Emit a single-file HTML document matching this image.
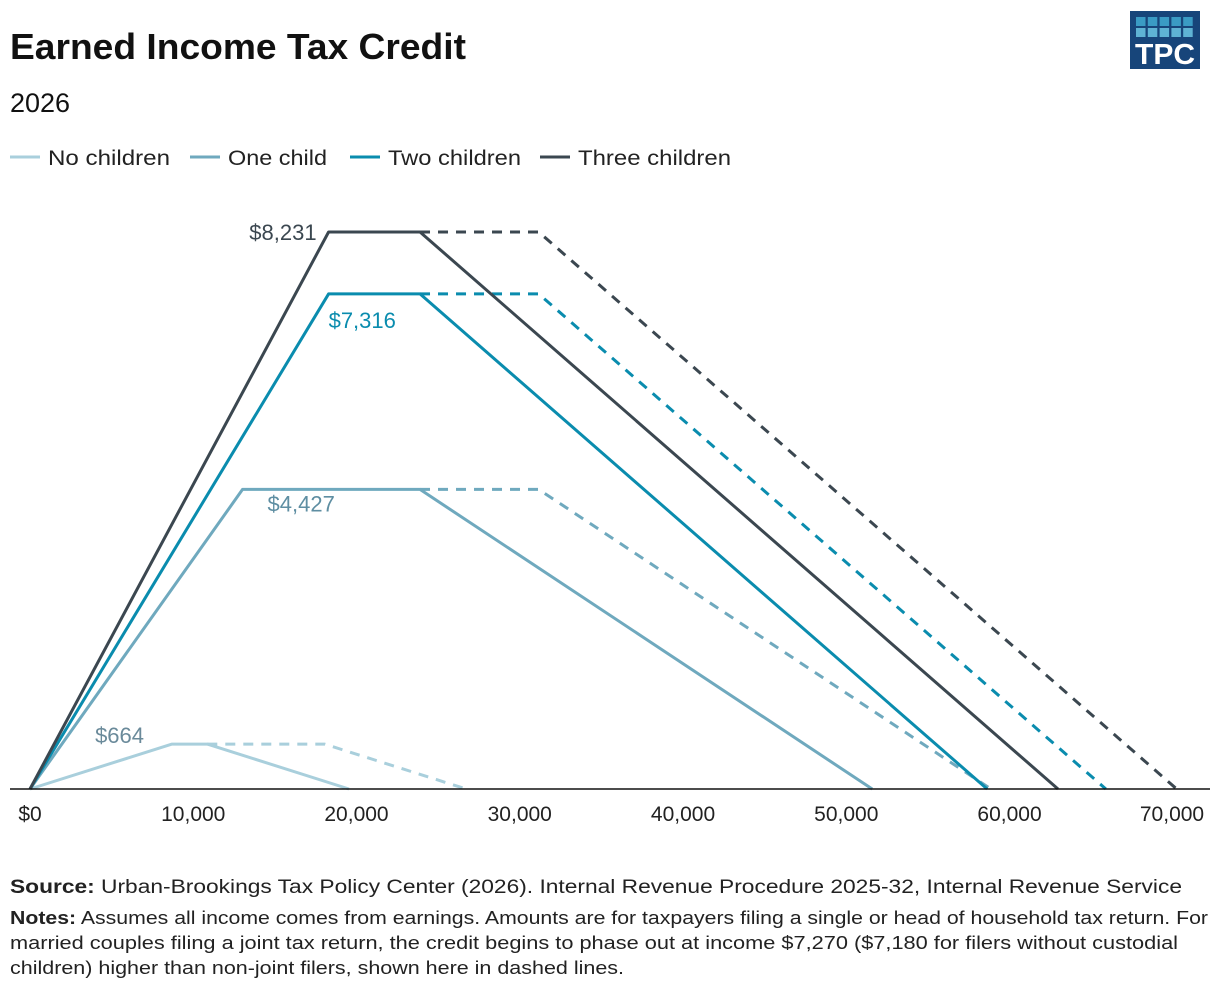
<!DOCTYPE html>
<html><head><meta charset="utf-8"><style>
body{margin:0;background:#fff;font-family:"Liberation Sans",sans-serif;}
#wrap{position:relative;width:1220px;height:992px;overflow:hidden;}
</style></head><body>
<div id="wrap">
<svg id="chart" width="1220" height="992" style="position:absolute;left:0;top:0">
<text x="10" y="59" font-size="36" font-weight="bold" fill="#111" textLength="456" lengthAdjust="spacingAndGlyphs">Earned Income Tax Credit</text>
<text x="10" y="112" font-size="27" fill="#111">2026</text>
<g>
<rect x="1130" y="11" width="70" height="58" fill="#17457a"/>
<g id="logogrid"></g>
<text x="1165" y="64" font-size="29" font-weight="bold" fill="#fff" text-anchor="middle" textLength="60" lengthAdjust="spacingAndGlyphs">TPC</text>
</g>
<g id="legend"></g>
<g id="plot"></g>
<text x="10" y="893" font-size="19" fill="#222" textLength="1172" lengthAdjust="spacingAndGlyphs"><tspan font-weight="bold">Source:</tspan> Urban-Brookings Tax Policy Center (2026). Internal Revenue Procedure 2025-32, Internal Revenue Service</text>
<g font-size="18" fill="#222">
<text x="10" y="924" textLength="1198" lengthAdjust="spacingAndGlyphs"><tspan font-weight="bold">Notes:</tspan> Assumes all income comes from earnings. Amounts are for taxpayers filing a single or head of household tax return. For</text>
<text x="10" y="949" textLength="1168" lengthAdjust="spacingAndGlyphs">married couples filing a joint tax return, the credit begins to phase out at income $7,270 ($7,180 for filers without custodial</text>
<text x="10" y="974" textLength="614" lengthAdjust="spacingAndGlyphs">children) higher than non-joint filers, shown here in dashed lines.</text>
</g>
</svg>
<script>
const seriesNames=["No children","One child","Two children","Three children"];
const colors=["#a9cfdc","#6fa9be","#0a8cae","#3b4750"];
const maxCredit=[664,4427,7316,8231];
const phaseInEnd=[8700,13020,18290,18290];
const phaseOutStart=[10860,23890,23890,23890];
const phaseOutEnd=[19540,51590,58630,62970];
const jointStart=[18040,31160,31160,31160];
const jointEnd=[26720,58860,65900,70240];
const xTicks=[0,10000,20000,30000,40000,50000,60000,70000];
const xTickLabels=["$0","10,000","20,000","30,000","40,000","50,000","60,000","70,000"];
const NS="http://www.w3.org/2000/svg";
const X=v=>30+v*1028/62970;
const Y=v=>789-v*557/8231;
function mk(t,a,p){const e=document.createElementNS(NS,t);for(const k in a)e.setAttribute(k,a[k]);p.appendChild(e);return e;}
const lg=document.getElementById('logogrid');
for(let r=0;r<2;r++)for(let c=0;c<5;c++){mk('rect',{x:1136+c*11.8,y:17+r*11,width:9.5,height:9,fill:r?'#5fb3d4':'#3a9bc4'},lg);}
const leg=document.getElementById('legend');
const lx=[10,190,350,540];
const lw=[122,99,133,153];
seriesNames.forEach((n,i)=>{
 const g=mk('g',{},leg);
 
 
 mk('line',{x1:lx[i],x2:lx[i]+30,y1:157,y2:157,stroke:colors[i],'stroke-width':3},g);
 const t=mk('text',{x:lx[i]+38,y:165,'font-size':21,fill:'#222',textLength:lw[i],lengthAdjust:'spacingAndGlyphs'},g);t.textContent=n;
});
const plot=document.getElementById('plot');
seriesNames.forEach((n,i)=>{
 const p=mk('polyline',{points:[[X(phaseOutStart[i]),Y(maxCredit[i])],[X(jointStart[i]),Y(maxCredit[i])],[X(jointEnd[i]),Y(0)]].map(a=>a.join(',')).join(' '),fill:'none',stroke:colors[i],'stroke-width':3,'stroke-dasharray':'10,8'},plot);
 
 
});
seriesNames.forEach((n,i)=>{
 const p=mk('polyline',{points:[[X(0),Y(0)],[X(phaseInEnd[i]),Y(maxCredit[i])],[X(phaseOutStart[i]),Y(maxCredit[i])],[X(phaseOutEnd[i]),Y(0)]].map(a=>a.join(',')).join(' '),fill:'none',stroke:colors[i],'stroke-width':3,'stroke-linejoin':'round'},plot);
 
 
});
const labPos=[[-28,-1,'end','#6a8a9a'],[25,22,'start','#5e8ea2'],[0,34,'start','#0a8cae'],[-12,8,'end','#3b4750']];
seriesNames.forEach((n,i)=>{
 const t=mk('text',{x:X(phaseInEnd[i])+labPos[i][0],y:Y(maxCredit[i])+labPos[i][1],'text-anchor':labPos[i][2],'font-size':22,fill:labPos[i][3]},plot);
 t.textContent='$'+maxCredit[i].toLocaleString('en-US');
 
 
});
const ax=mk('line',{x1:10,x2:1210,y1:Y(0),y2:Y(0),stroke:'#111','stroke-width':1.5},plot);


xTicks.forEach((v,i)=>{
 const t=mk('text',{x:i==0?X(v):Math.min(X(v),1172),y:821,'text-anchor':'middle','font-size':21,fill:'#222'},plot);
 t.textContent=xTickLabels[i];
 
 
});
</script>
</div>
</body></html>
